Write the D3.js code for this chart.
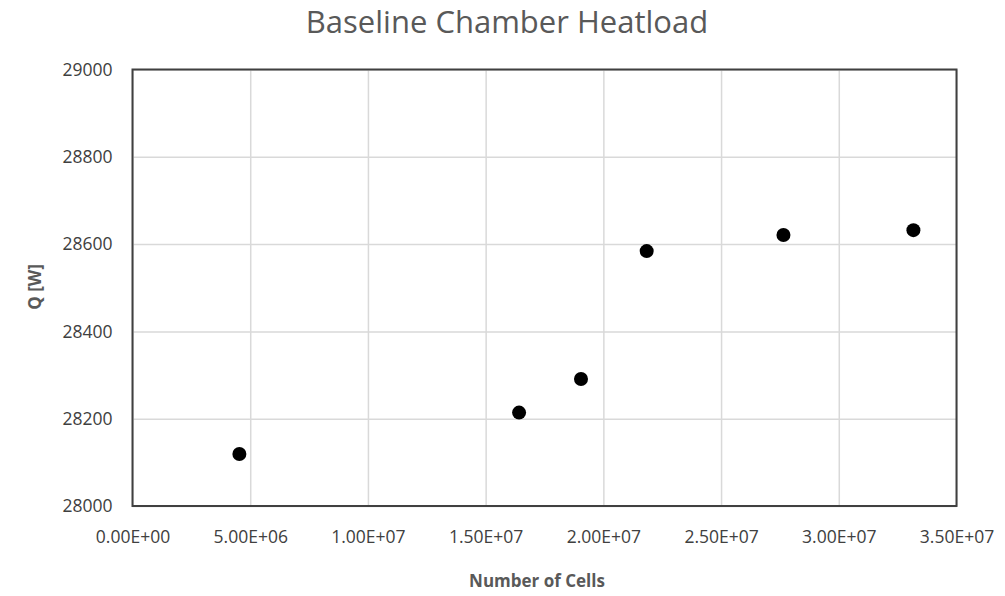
<!DOCTYPE html>
<html><head><meta charset="utf-8">
<script src="https://cdn.jsdelivr.net/npm/d3@7"></script>
<style>body{margin:0;background:#fff}svg{display:block}</style>
</head><body>
<svg id="c" width="1005" height="596"></svg>
<script>
const cells = [4.54e6, 16.42e6, 19.05e6, 21.84e6, 27.65e6, 33.17e6];
const heat = [28119, 28214, 28291, 28584, 28621, 28632];
const xTicks = [0, 5e6, 1e7, 1.5e7, 2e7, 2.5e7, 3e7, 3.5e7];
const xTickLabels = ["0.00E+00","5.00E+06","1.00E+07","1.50E+07","2.00E+07","2.50E+07","3.00E+07","3.50E+07"];
const yTicks = [28000, 28200, 28400, 28600, 28800, 29000];

const svg = d3.select("#c");
const L = 132.5, R = 956.5, T = 69.5, B = 506;
const x = d3.scaleLinear().domain([0, 3.5e7]).range([L, R]);
const y = d3.scaleLinear().domain([28000, 29000]).range([B, T]);
const font = "'Open Sans', sans-serif";

// gridlines
svg.append("g").attr("transform", `translate(0,${B})`)
  .call(d3.axisBottom(x).tickValues(xTicks).tickSize(-(B - T)).tickFormat(""))
  .call(g => g.select(".domain").remove())
  .call(g => g.selectAll("line").attr("stroke", "#d9d9d9").attr("stroke-width", 1.5));
svg.append("g").attr("transform", `translate(${L},0)`)
  .call(d3.axisLeft(y).tickValues(yTicks).tickSize(-(R - L)).tickFormat(""))
  .call(g => g.select(".domain").remove())
  .call(g => g.selectAll("line").attr("stroke", "#d9d9d9").attr("stroke-width", 1.5));

// frame
svg.append("rect").attr("x", L).attr("y", T).attr("width", R - L).attr("height", B - T)
  .attr("fill", "none").attr("stroke", "#404040").attr("stroke-width", 2);

// tick labels
svg.append("g").attr("transform", `translate(0,${B})`)
  .call(d3.axisBottom(x).tickValues(xTicks).tickSize(0).tickPadding(37)
    .tickFormat((d, i) => xTickLabels[i]))
  .call(g => g.select(".domain").remove())
  .call(g => g.selectAll("text").attr("font-family", font).attr("font-size", 17.5)
    .attr("fill", "#404040").attr("dy", "0"));
svg.append("g").attr("transform", `translate(${L},0)`)
  .call(d3.axisLeft(y).tickValues(yTicks).tickSize(0).tickPadding(20).tickFormat(d3.format("d")))
  .call(g => g.select(".domain").remove())
  .call(g => g.selectAll("text").attr("font-family", font).attr("font-size", 17.5)
    .attr("fill", "#404040"));

// points
svg.append("g").selectAll("circle").data(cells).join("circle")
  .attr("cx", d => x(d)).attr("cy", (d, i) => y(heat[i])).attr("r", 7).attr("fill", "#000");

// titles
svg.append("text").attr("x", 507).attr("y", 33).attr("text-anchor", "middle")
  .attr("font-family", font).attr("font-size", 31).attr("fill", "#595959")
  .text("Baseline Chamber Heatload");
svg.append("text").attr("x", 537).attr("y", 587).attr("text-anchor", "middle")
  .attr("font-family", font).attr("font-size", 17).attr("font-weight", "bold").attr("fill", "#595959")
  .text("Number of Cells");
svg.append("text").attr("transform", "translate(41,287) rotate(-90)").attr("text-anchor", "middle")
  .attr("font-family", font).attr("font-size", 17).attr("font-weight", "bold").attr("fill", "#595959")
  .text("Q [W]");
</script>
</body></html>
